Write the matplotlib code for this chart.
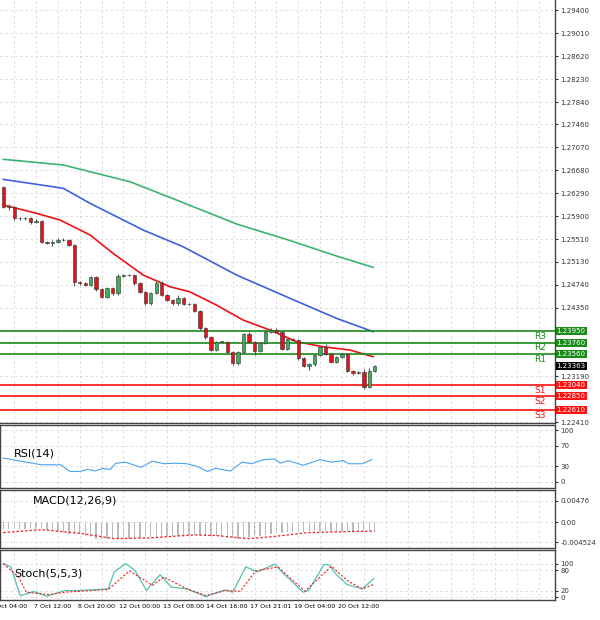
import numpy as np
import matplotlib
matplotlib.use("Agg")
from matplotlib import pyplot as plt

first_open = 1.26403
closes = [1.26064, 1.26064, 1.25867, 1.25878, 1.25867, 1.2581, 1.25821, 1.2547, 1.25454, 1.2547,
          1.25499, 1.25499, 1.25414, 1.24792, 1.24764, 1.24736, 1.24866, 1.24663, 1.24538, 1.2468,
          1.24595, 1.24894, 1.24906, 1.24906, 1.24764, 1.24623, 1.24425, 1.24606, 1.24776, 1.24566,
          1.24482, 1.24425, 1.2451, 1.24414, 1.24414, 1.243, 1.24001, 1.23848, 1.23634, 1.23775,
          1.23775, 1.23605, 1.23408, 1.23605, 1.23899, 1.23775, 1.23617, 1.23758, 1.23945, 1.23973,
          1.23945, 1.23651, 1.2382, 1.23803, 1.23492, 1.23362, 1.23391, 1.23549, 1.2369, 1.23566,
          1.23436, 1.2351, 1.23566, 1.23283, 1.23249, 1.23266, 1.23012, 1.23283, 1.23363]
wick_up = [0.0002, 0.0004, 0.0002, 0.0002, 0.0002, 0.0002, 0.0004, 0.0002, 0.0002, 0.0003,
           0.0003, 0.0004, 0.0002, 0.0002, 0.0002, 0.0002, 0.0002, 0.0002, 0.0002, 0.0002,
           0.0002, 0.0003, 0.0002, 0.0002, 0.0002, 0.0002, 0.0002, 0.0002, 0.0002, 0.0002,
           0.0002, 0.0002, 0.0005, 0.0002, 0.0002, 0.0002, 0.0002, 0.0002, 0.0002, 0.0002,
           0.0002, 0.0002, 0.0002, 0.0002, 0.0002, 0.0004, 0.0002, 0.0002, 0.0002, 0.0004,
           0.0004, 0.0002, 0.0002, 0.0002, 0.0002, 0.0002, 0.0002, 0.0002, 0.0002, 0.0004,
           0.0002, 0.0002, 0.0002, 0.0002, 0.0002, 0.0002, 0.0005, 0.0005, 0.0002]
wick_dn = [0.0002, 0.0005, 0.0002, 0.0002, 0.0002, 0.0004, 0.0002, 0.0002, 0.0003, 0.0005,
           0.0002, 0.0002, 0.0002, 0.0008, 0.0002, 0.0002, 0.0002, 0.0002, 0.0002, 0.0002,
           0.0002, 0.0002, 0.0002, 0.0002, 0.0002, 0.0002, 0.0002, 0.0002, 0.0002, 0.0002,
           0.0002, 0.0002, 0.0002, 0.0002, 0.0002, 0.0002, 0.0002, 0.0002, 0.0002, 0.0002,
           0.0002, 0.0002, 0.0002, 0.0002, 0.0002, 0.0002, 0.0007, 0.0002, 0.0002, 0.0002,
           0.0002, 0.0002, 0.0002, 0.0002, 0.0002, 0.0002, 0.0006, 0.0002, 0.0002, 0.0002,
           0.0002, 0.0002, 0.0002, 0.0002, 0.0004, 0.0002, 0.0004, 0.0002, 0.0002]

ma_fast_idx = [0, 6.1, 10.4, 15.9, 20.1, 25.6, 30.5, 34.1, 39, 43.9, 48.8, 53.7, 58.5, 63.4, 67.7]
ma_fast = [1.26093, 1.25952, 1.25838, 1.25584, 1.25273, 1.24906, 1.24707, 1.24623, 1.24397,
           1.24142, 1.23973, 1.23775, 1.2369, 1.23634, 1.23521]
ma_mid_idx = [0, 11, 15.9, 25.6, 32.9, 42.7, 51.8, 61, 67.7]
ma_mid = [1.26528, 1.26376, 1.26121, 1.25669, 1.25386, 1.24906, 1.24538, 1.24171, 1.23945]
ma_slow_idx = [0, 11, 23.2, 31.7, 42.7, 51.8, 61, 67.7]
ma_slow = [1.26868, 1.26771, 1.26488, 1.26178, 1.25771, 1.25511, 1.25228, 1.25036]

levels = [("R3", 1.2395), ("R2", 1.2376), ("R1", 1.2356),
          ("S1", 1.2304), ("S2", 1.2285), ("S3", 1.2261)]
price_ticks = [1.29400, 1.29010, 1.28620, 1.28230, 1.27840, 1.27460, 1.27070, 1.26680,
               1.26290, 1.25900, 1.25510, 1.25130, 1.24740, 1.24350, 1.23190, 1.22410]
last_price = 1.23363

time_idx = [1, 9, 17, 25, 33, 41, 49, 57, 65]
time_labels = ["6 Oct 04:00", "7 Oct 12:00", "8 Oct 20:00", "12 Oct 00:00", "13 Oct 08:00",
               "14 Oct 16:00", "17 Oct 21:01", "19 Oct 04:00", "20 Oct 12:00"]

rsi_idx = [0, 4.2, 7, 10.5, 12.2, 14, 15.4, 16.8, 18.2, 19.6, 20.6, 22.4, 25.2, 27.3, 29.4, 31.5,
           33.6, 35.7, 37.4, 38.8, 41.6, 43.7, 45.5, 47.6, 49.7, 50.7, 52.1, 54.9, 58, 60.1, 62.2,
           63.3, 65.7, 67.5]
rsi = [46, 38, 33, 33, 20, 20, 24, 21, 26, 24, 36, 38, 28, 40, 35, 36, 35, 29, 20, 26, 21, 38,
       35, 43, 44, 36, 41, 32, 43, 38, 41, 35, 35, 43]

macd = [-0.00143, -0.00145, -0.00147, -0.0015, -0.00152, -0.00155, -0.00157, -0.00159, -0.00175,
        -0.00195, -0.00215, -0.00235, -0.00255, -0.00265, -0.00276, -0.00305, -0.00340, -0.00371,
        -0.00375, -0.00378, -0.00380, -0.00382, -0.00378, -0.00372, -0.00365, -0.00355, -0.00348,
        -0.00340, -0.00332, -0.00325, -0.00318, -0.00312, -0.00305, -0.00298, -0.00292, -0.00286,
        -0.00295, -0.00305, -0.00315, -0.00322, -0.00329, -0.00345, -0.00360, -0.00371, -0.00355,
        -0.00338, -0.00318, -0.00300, -0.00285, -0.00268, -0.00249, -0.00240, -0.00232, -0.00225,
        -0.00218, -0.00212, -0.00208, -0.00205, -0.00202, -0.00200, -0.00196, -0.00196, -0.00196,
        -0.00196, -0.00196, -0.00196, -0.00196, -0.00196, -0.00196]
signal_idx = [0, 7, 14, 20.3, 26.6, 35, 39.2, 44.8, 49, 56, 63, 68]
signal = [-0.00233, -0.0017, -0.00249, -0.00371, -0.00355, -0.00286, -0.00302, -0.00371,
          -0.00329, -0.00233, -0.00212, -0.00201]

stoch_idx = [0, 1.4, 3.1, 5.6, 8, 11.2, 14, 19.2, 20.3, 22.4, 24.1, 26.2, 28.7, 30.8, 33.6, 37.1,
             40.6, 42, 44.4, 46.5, 49.7, 51, 54.9, 55.9, 58.7, 59.8, 60.8, 62.9, 65.7, 67.8]
stoch_k = [100, 90, 5, 17, 3, 20, 20, 25, 75, 100, 80, 20, 67, 30, 25, 2, 22, 15, 90, 75, 98, 75,
           15, 20, 97, 95, 70, 38, 25, 55]
stoch_sig_idx = [0, 2.8, 4.2, 8.4, 11.2, 19.2, 23.1, 25.9, 27.3, 29.4, 33.6, 37.1, 40.6, 43.4,
                 46.2, 50.3, 55.2, 60.1, 62.9, 65.7, 67.8]
stoch_d = [100, 60, 15, 8, 15, 23, 78, 50, 35, 60, 25, 5, 20, 18, 78, 90, 18, 92, 50, 25, 38]

W, H = 600, 620
XMAX = 101


def box(top, bottom):
    return [0, 1 - bottom / H, 555 / W, (bottom - top) / H]


def style(ax):
    ax.set_xlim(-0.6, XMAX)
    ax.yaxis.tick_right()
    ax.tick_params(axis="y", labelsize=5, length=2, pad=2, colors="#333333")
    ax.tick_params(axis="x", length=0)
    ax.set_xticks(np.arange(2, XMAX, 4))
    ax.set_xticklabels([])
    ax.grid(True, color="#d8d8d8", linestyle=(0, (3, 3)), linewidth=0.6)
    for s in ax.spines.values():
        s.set_color("#444444")
        s.set_linewidth(1.0)


fig = plt.figure(figsize=(6, 6.2), dpi=100)
ax = fig.add_axes(box(0, 423))
style(ax)
ax.spines["left"].set_visible(False)
ax.spines["top"].set_visible(False)

x = np.arange(len(closes))
opens = np.array([first_open] + closes[:-1])
cl = np.array(closes)
hi = np.maximum(opens, cl) + np.array(wick_up)
lo = np.minimum(opens, cl) - np.array(wick_dn)
up = cl >= opens
ax.vlines(x, lo, hi, color="#555555", linewidth=0.8, zorder=3)
body = np.maximum(np.abs(cl - opens), 0.00004)
ax.bar(x, body, bottom=np.minimum(opens, cl), width=0.62,
       color=np.where(up, "#3fae5c", "#e3121b"), edgecolor="#333333", linewidth=0.4, zorder=4)

ax.plot(ma_slow_idx, ma_slow, color="#3cb371", linewidth=1.2, zorder=2)
ax.plot(ma_mid_idx, ma_mid, color="#3d5fe0", linewidth=1.2, zorder=2)
ax.plot(ma_fast_idx, ma_fast, color="#ee1111", linewidth=1.2, zorder=2)

for name, lv in levels:
    c = "#1a8a1a" if name.startswith("R") else "#ff1010"
    ax.axhline(lv, color=c, linewidth=1.2, zorder=2)
    ax.text(98.3, lv - 0.00012, name, color=c, fontsize=6.5, ha="center", va="top")
    ax.text(1.003, lv, "%.5f" % lv, transform=ax.get_yaxis_transform(), fontsize=5,
            color="white", va="center", ha="left",
            bbox=dict(boxstyle="square,pad=0.15", fc=c, ec="none"))
ax.text(1.003, last_price, "%.5f" % last_price, transform=ax.get_yaxis_transform(), fontsize=5,
        color="white", va="center", ha="left",
        bbox=dict(boxstyle="square,pad=0.15", fc="black", ec="none"))
ax.set_ylim(1.22396, 1.2957)
ax.set_yticks(price_ticks)
ax.set_yticklabels(["%.5f" % t for t in price_ticks])

# RSI
ar = fig.add_axes(box(425, 488))
style(ar)
ar.plot(rsi_idx, rsi, color="#4aa3f0", linewidth=0.8)
ar.set_ylim(-12, 110)
ar.set_yticks([0, 30, 70, 100])
ar.text(2, 55, "RSI(14)", fontsize=8, va="center")

# MACD
am = fig.add_axes(box(490, 548))
style(am)
am.bar(np.arange(len(macd)), macd, width=0.25, color="#bbbbbb")
am.plot(signal_idx, signal, color="#ee2222", linestyle=(0, (2, 1.5)), linewidth=0.9)
am.set_ylim(-0.0058, 0.0072)
am.set_yticks([0.00476, 0.0, -0.004524])
am.set_yticklabels(["0.00476", "0.00", "-0.004524"])
am.text(5.5, 0.0048, "MACD(12,26,9)", fontsize=8, va="center")

# Stochastic
ast = fig.add_axes(box(550, 600))
style(ast)
ast.plot(stoch_idx, stoch_k, color="#55c0b0", linewidth=0.9)
ast.plot(stoch_sig_idx, stoch_d, color="#ee2222", linestyle=(0, (2, 1.5)), linewidth=0.8)
ast.set_ylim(-8, 140)
ast.set_yticks([0, 20, 80, 100])
ast.text(2, 70, "Stoch(5,5,3)", fontsize=8, va="center")
ast.set_xticks(time_idx, minor=True)
ast.set_xticklabels(time_labels, minor=True, fontsize=4.6)
ast.tick_params(axis="x", which="minor", length=0, pad=3)

fig.savefig("out.png", dpi=100, facecolor="white")
